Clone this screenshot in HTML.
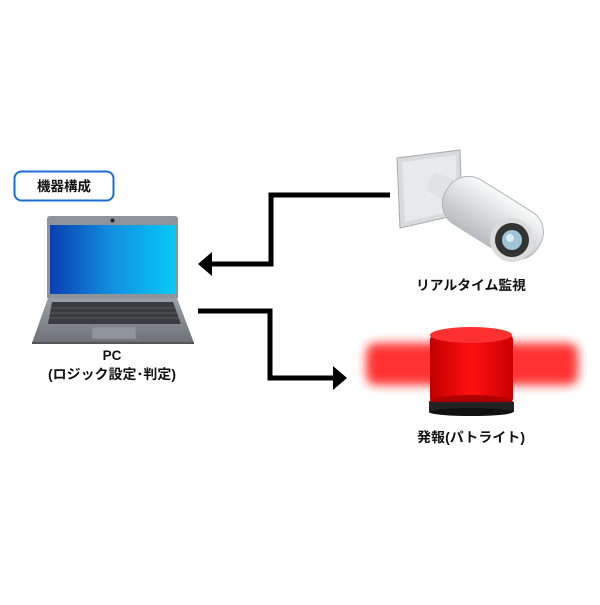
<!DOCTYPE html>
<html><head><meta charset="utf-8"><style>
body{margin:0;background:#fff}
svg text{font-family:"Liberation Sans","Noto Sans CJK JP",sans-serif;font-weight:bold;fill:#111}
</style></head><body>
<svg width="600" height="600" viewBox="0 0 600 600" xmlns="http://www.w3.org/2000/svg">
<defs>
<linearGradient id="scr" x1="0" x2="1"><stop offset="0" stop-color="#0a3fb0"/><stop offset="0.5" stop-color="#1390e0"/><stop offset="1" stop-color="#08c8f6"/></linearGradient>
<linearGradient id="base" x1="0" y1="0" x2="0" y2="1"><stop offset="0" stop-color="#9aa0a6"/><stop offset="1" stop-color="#6c7278"/></linearGradient>
<linearGradient id="cam" x1="0" y1="0" x2="0" y2="1"><stop offset="0" stop-color="#fafafa"/><stop offset="1" stop-color="#b8bcc0"/></linearGradient>
<linearGradient id="dome" x1="0" x2="1"><stop offset="0" stop-color="#c00000"/><stop offset="0.5" stop-color="#ff1010"/><stop offset="1" stop-color="#c80000"/></linearGradient>
<filter id="blur" x="-20%" y="-50%" width="140%" height="200%"><feGaussianBlur stdDeviation="5"/></filter>
</defs>
<rect x="14.5" y="171.5" width="99" height="29" rx="7" fill="#fff" stroke="#1a6fd0" stroke-width="2"/>
<text x="64" y="191" font-size="13.5" text-anchor="middle">機器構成</text>
<rect x="47" y="216" width="131" height="84" rx="3" fill="#8e949a"/>
<rect x="50" y="225" width="125" height="69" fill="url(#scr)"/>
<circle cx="112.5" cy="220.5" r="2" fill="#222"/>
<polygon points="48,298 177,298 194,343 32,343" fill="url(#base)"/>
<polygon points="52,302 173,302 181,324 48,324" fill="#3a3d40"/>
<g stroke="#777" stroke-width="0.6">
<line x1="51" y1="308" x2="175" y2="308"/><line x1="50" y1="313" x2="177" y2="313"/><line x1="49" y1="318" x2="179" y2="318"/>
</g>
<rect x="92" y="327" width="44" height="12" fill="#8f959b" stroke="#7b8187" stroke-width="0.8"/>
<rect x="32" y="342" width="162" height="2" fill="#555"/>
<text x="112" y="360" font-size="13.5" text-anchor="middle">PC</text>
<text x="112" y="379" font-size="13.5" text-anchor="middle" textLength="128" lengthAdjust="spacingAndGlyphs">(ロジック設定･判定)</text>
<polyline points="390,195 271,195 271,264 212,264" fill="none" stroke="#000" stroke-width="5"/>
<polygon points="198,264 212,252 212,276" fill="#000"/>
<polyline points="198,311 270,311 270,378 334,378" fill="none" stroke="#000" stroke-width="5"/>
<polygon points="347,378 333,366 333,390" fill="#000"/>
<polygon points="397,158 460,150 462,214 400,228" fill="#d8dadc" stroke="#aaa"/>
<polygon points="402,162 456,155 457,210 405,222" fill="#e8e9ea"/>
<rect x="428" y="176" width="30" height="22" rx="8" fill="#e0e2e4" transform="rotate(25 443 187)"/>
<g transform="rotate(32 490 215)">
<rect x="440" y="190" width="108" height="52" rx="24" fill="url(#cam)" stroke="#b0b4b8"/>
</g>
<circle cx="512" cy="240" r="22" fill="#dcdcdc"/>
<circle cx="512" cy="240" r="17" fill="#333"/>
<circle cx="512" cy="240" r="10" fill="#9fc4d8"/>
<circle cx="510" cy="238" r="4" fill="#d8ecf4"/>
<text x="471" y="290" font-size="13.5" text-anchor="middle" textLength="110" lengthAdjust="spacingAndGlyphs">リアルタイム監視</text>
<rect x="366" y="343" width="212" height="42" rx="10" fill="#ff1a1a" opacity="0.9" filter="url(#blur)"/>
<rect x="430" y="334" width="83" height="70" rx="6" fill="url(#dome)"/>
<ellipse cx="471" cy="335" rx="41" ry="8" fill="#ff3030"/>
<ellipse cx="471" cy="402" rx="42" ry="7" fill="#b00000"/>
<rect x="429" y="402" width="85" height="10" fill="#222"/>
<ellipse cx="471" cy="412" rx="42" ry="4" fill="#111"/>
<text x="471" y="442" font-size="13.5" text-anchor="middle" textLength="108" lengthAdjust="spacingAndGlyphs">発報(パトライト)</text>
</svg>
</body></html>
